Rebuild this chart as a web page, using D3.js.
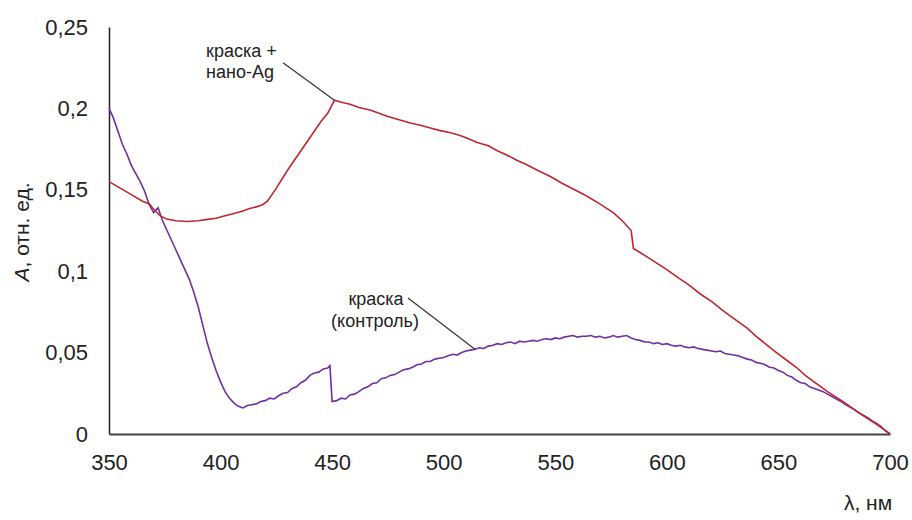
<!DOCTYPE html>
<html>
<head>
<meta charset="utf-8">
<script src="https://cdn.jsdelivr.net/npm/d3@7"></script>
<style>
  body { margin: 0; background: #fff; }
  svg text { font-family: "Liberation Sans", Arial, sans-serif; fill: #222; }
</style>
</head>
<body>
<svg id="chart" width="912" height="520"></svg>
<script>
// tick labels
const xTicks = [350, 400, 450, 500, 550, 600, 650, 700];
const yTicks = [0, 0.05, 0.1, 0.15, 0.2, 0.25];

// краска + нано-Ag (red)
const silverNm = [350, 355, 360, 365, 368, 370, 373, 376, 380, 385, 390, 395, 398, 402, 406, 410, 413, 416, 419, 421,
  425, 430, 435, 440, 445, 448, 451, 455, 458, 462, 467, 471, 475, 480, 485, 490, 494, 498, 503, 507, 510, 515, 520,
  524, 528, 533, 537, 542, 548, 553, 558, 563, 568, 572, 576, 580, 584, 585, 588, 592, 596, 600, 605, 610, 615, 620,
  625, 631, 636, 640, 645, 650, 654, 658, 662, 666, 672, 676, 680, 685, 690, 694, 697, 700];
const silverA = [0.155, 0.151, 0.147, 0.143, 0.1415, 0.138, 0.134, 0.132, 0.131, 0.1305, 0.131, 0.132, 0.1325, 0.134, 0.1355, 0.137, 0.1385, 0.1395, 0.141, 0.143,
  0.151, 0.162, 0.172, 0.182, 0.192, 0.197, 0.205, 0.2035, 0.2025, 0.2005, 0.199, 0.197, 0.195, 0.193, 0.191, 0.1895, 0.188, 0.1865, 0.185, 0.1835, 0.182, 0.179, 0.177,
  0.174, 0.1715, 0.168, 0.1655, 0.162, 0.158, 0.154, 0.1505, 0.147, 0.143, 0.1395, 0.136, 0.131, 0.125, 0.114, 0.1115, 0.108, 0.1045, 0.101, 0.096, 0.0915, 0.086, 0.0815,
  0.076, 0.070, 0.065, 0.060, 0.0545, 0.049, 0.045, 0.041, 0.036, 0.032, 0.026, 0.0225, 0.019, 0.014, 0.0095, 0.006, 0.003, 0.000];

// краска (контроль) (purple)
const controlNm = [350, 352, 354, 356, 358, 360, 362, 364, 366, 368, 370, 372, 374, 376, 378, 380, 382, 384, 386, 388,
  390, 392, 394, 396, 398, 400, 402, 404, 406, 408, 410, 412, 414, 416, 418, 420, 422, 424, 426, 428,
  430, 432, 434, 436, 438, 440, 442, 444, 446, 448, 449, 450, 452, 454, 456, 458, 460, 462, 464, 466,
  468, 470, 472, 474, 476, 478, 480, 482, 484, 486, 488, 490, 492, 494, 496, 498, 500, 502, 504, 506,
  508, 510, 512, 514, 516, 518, 520, 522, 524, 526, 528, 530, 532, 534, 536, 538, 540, 542, 544, 546,
  548, 550, 552, 554, 556, 558, 560, 562, 564, 566, 568, 570, 572, 574, 576, 578, 580, 582, 584, 586,
  588, 590, 592, 594, 596, 598, 600, 602, 604, 606, 608, 610, 612, 614, 616, 618, 620, 622, 624, 626,
  628, 630, 632, 634, 636, 638, 640, 642, 644, 646, 648, 650, 652, 654, 656, 658, 660, 662, 664, 666,
  668, 670, 672, 674, 676, 678, 680, 682, 684, 686, 688, 690, 692, 694, 696, 698, 700];
const controlA = [0.200, 0.194, 0.186, 0.178, 0.172, 0.165, 0.160, 0.155, 0.149, 0.141, 0.136, 0.139, 0.131, 0.125, 0.119, 0.113, 0.107, 0.101, 0.095, 0.087,
  0.078, 0.067, 0.056, 0.047, 0.039, 0.032, 0.026, 0.022, 0.019, 0.017, 0.016, 0.0175, 0.018, 0.0185, 0.020, 0.0205, 0.022, 0.0215, 0.0235, 0.025,
  0.0255, 0.028, 0.029, 0.0315, 0.033, 0.036, 0.0375, 0.038, 0.040, 0.0405, 0.042, 0.020, 0.0205, 0.022, 0.0215, 0.024, 0.0245, 0.026, 0.028, 0.029,
  0.031, 0.0315, 0.034, 0.0345, 0.036, 0.0365, 0.038, 0.0395, 0.040, 0.041, 0.0425, 0.043, 0.0445, 0.0445, 0.046, 0.0465, 0.047, 0.048, 0.049, 0.0485,
  0.050, 0.051, 0.0515, 0.052, 0.053, 0.0525, 0.054, 0.0545, 0.0555, 0.055, 0.056, 0.0565, 0.0555, 0.057, 0.0565, 0.057, 0.0575, 0.057, 0.058, 0.0585,
  0.058, 0.059, 0.0585, 0.0595, 0.060, 0.0605, 0.0595, 0.060, 0.060, 0.0605, 0.0595, 0.060, 0.059, 0.0595, 0.0605, 0.0595, 0.060, 0.0605, 0.059, 0.058,
  0.0575, 0.0565, 0.0565, 0.0555, 0.056, 0.055, 0.0555, 0.0545, 0.054, 0.0545, 0.0535, 0.053, 0.0535, 0.0525, 0.052, 0.0515, 0.051, 0.0505, 0.051, 0.0495,
  0.049, 0.0485, 0.048, 0.047, 0.046, 0.0455, 0.044, 0.0435, 0.0425, 0.041, 0.0405, 0.039, 0.038, 0.036, 0.035, 0.033, 0.0315, 0.031, 0.029, 0.028,
  0.027, 0.026, 0.0245, 0.023, 0.0215, 0.020, 0.018, 0.0165, 0.015, 0.013, 0.0115, 0.010, 0.008, 0.0065, 0.0045, 0.002, 0.000];

const svg = d3.select("#chart");
const x = d3.scaleLinear().domain([350, 700]).range([109, 890]);
const y = d3.scaleLinear().domain([0, 0.25]).range([434, 27]);
const fmt = d => String(d).replace(".", ",");

// axes
const xAxis = svg.append("g")
    .attr("transform", `translate(0,${y(0)})`)
    .call(d3.axisBottom(x).tickValues(xTicks).tickSize(0).tickPadding(20).tickFormat(d => d));
xAxis.select(".domain").attr("stroke", "#444").attr("stroke-width", 2);
xAxis.selectAll("text").attr("font-size", 22).attr("fill", "#222");

const yAxis = svg.append("g")
    .attr("transform", `translate(${x(350)},0)`)
    .call(d3.axisLeft(y).tickValues(yTicks).tickSize(0).tickPadding(21).tickFormat(fmt));
yAxis.select(".domain").attr("stroke", "#222").attr("stroke-width", 1.5);
yAxis.selectAll("text").attr("font-size", 22).attr("fill", "#222");
svg.selectAll(".tick text").attr("font-family", "'Liberation Sans', Arial, sans-serif");

// curves
const line = d3.line().x(d => x(d[0])).y(d => y(d[1]));
svg.append("path")
    .datum(controlNm.map((v, i) => [v, controlA[i]]))
    .attr("d", line)
    .attr("fill", "none")
    .attr("stroke", "#7030a0")
    .attr("stroke-width", 1.6);
svg.append("path")
    .datum(silverNm.map((v, i) => [v, silverA[i]]))
    .attr("d", line)
    .attr("fill", "none")
    .attr("stroke", "#c0262d")
    .attr("stroke-width", 1.6);

// annotations
svg.append("line")
    .attr("x1", x(428)).attr("y1", y(0.228))
    .attr("x2", x(451)).attr("y2", y(0.205))
    .attr("stroke", "#333").attr("stroke-width", 1.2);
svg.append("text").attr("x", 206).attr("y", 57).attr("font-size", 18).text("краска +");
svg.append("text").attr("x", 206).attr("y", 78).attr("font-size", 18).text("нано-Ag");

svg.append("line")
    .attr("x1", x(484)).attr("y1", y(0.0835))
    .attr("x2", x(514)).attr("y2", y(0.052))
    .attr("stroke", "#333").attr("stroke-width", 1.2);
svg.append("text").attr("x", 376).attr("y", 305).attr("font-size", 18)
    .attr("text-anchor", "middle").text("краска");
svg.append("text").attr("x", 375).attr("y", 327).attr("font-size", 18)
    .attr("text-anchor", "middle").text("(контроль)");

// axis titles
const yTitle = svg.append("text")
    .attr("transform", "translate(29,232) rotate(-90)")
    .attr("text-anchor", "middle")
    .attr("font-size", 21);
yTitle.append("tspan").attr("font-style", "italic").text("A");
yTitle.append("tspan").text(", отн. ед.");

svg.append("text")
    .attr("x", 868).attr("y", 510)
    .attr("text-anchor", "middle")
    .attr("font-size", 21)
    .text("λ, нм");
</script>
</body>
</html>
